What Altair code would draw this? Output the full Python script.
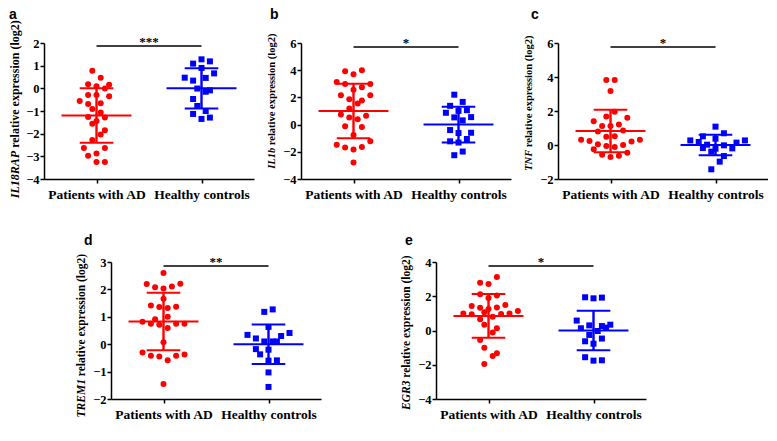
import altair as alt
import pandas as pd

GROUPS = ["Patients with AD", "Healthy controls"]
COLORS = ["#ff0000", "#0000ff"]
SHAPES = ["circle", "square"]
LETTERS = ["a", "b", "c", "d", "e"]
GENES = ["IL18RAP", "IL1b", "TNF", "TREM1", "EGR3"]
TITLE_REST = "relative expression (log2)"
STARS = ["***", "*", "*", "**", "*"]

# ---- panel a : IL18RAP ----
a_ad_val = [0.78, 0.47, 0.18, 0.16, 0.09, -0.01, -0.29, -0.29, -0.35, -0.56, -0.69, -0.66, -0.91, -1.07,
            -1.26, -1.29, -1.44, -1.56, -1.85, -2.04, -2.28, -2.63, -2.63, -2.88, -2.97, -3.25, -3.25]
a_ad_off = [-0.04, 0.04, -0.08, 0.12, 0, 0.08, -0.08, 0, 0.12, -0.16, -0.08, 0.04, -0.04, 0.04,
            -0.08, 0.08, 0, -0.04, 0.08, 0.04, -0.04, -0.12, 0.08, 0, -0.08, 0, 0.08]
a_hc_val = [1.28, 1.19, 1.09, 0.9, 0.66, 0.47, 0.46, 0.34, -0.01, -0.09, -0.15, -0.47, -0.78, -1.0,
            -1.13, -1.35, -1.29]
a_hc_off = [0, 0.08, -0.08, 0, 0.12, -0.16, 0.04, -0.08, -0.04, 0.08, 0.04, -0.08, -0.04, 0.04,
            -0.08, 0, 0.08]

# ---- panel b : IL1b ----
b_ad_val = [3.93, 3.71, 4.0, 3.13, 2.98, 2.98, 2.74, 2.57, 2.16, 2.16, 1.86, 1.77, 1.55, 1.18,
            0.74, 0.65, 0.53, 0.4, -0.13, -0.18, -0.76, -1.23, -1.49, -1.69, -1.64, -1.83, -2.78]
b_ad_off = [-0.08, 0, 0.08, -0.16, -0.08, 0.16, 0.08, 0, -0.12, 0.16, -0.04, 0.08, 0.04, -0.04,
            -0.12, 0.12, -0.04, 0.04, -0.08, 0.08, 0, 0.16, -0.16, -0.08, 0.08, 0, 0]
b_hc_val = [2.2, 1.67, 1.38, 1.01, 1.06, 0.87, 0.53, 0.55, 0.31, -0.4, -0.62, -0.6, -1.06, -1.23,
            -1.32, -1.98, -2.25]
b_hc_off = [-0.04, 0.04, -0.08, 0, 0.08, -0.12, -0.04, 0.12, 0.04, -0.08, 0, 0.12, 0.08, -0.08,
            0, 0.04, -0.04]

# ---- panel c : TNF ----
c_ad_val = [3.82, 3.82, 3.18, 1.96, 1.67, 1.61, 1.39, 1.2, 1.12, 1.12, 0.8, 0.86, 0.49, 0.51,
            0.31, 0.24, 0.31, 0.2, 0.04, 0.0, -0.06, -0.12, -0.25, -0.45, -0.57, -0.63, -0.71]
c_ad_off = [-0.04, 0.04, 0, 0.04, -0.04, 0.16, -0.16, 0.08, -0.08, 0, -0.12, 0.12, -0.04, 0.04,
            -0.28, -0.2, 0.28, 0.2, -0.12, 0.12, -0.04, 0.04, -0.16, 0.16, -0.08, 0.08, 0]
c_hc_val = [1.08, 0.69, 0.51, 0.27, 0.27, 0.37, 0.18, 0.14, 0.02, -0.02, -0.18, -0.2, -0.22, -0.39,
            -0.65, -0.98, -1.43]
c_hc_off = [0, 0.08, -0.12, -0.24, 0.28, 0, -0.16, 0.2, -0.08, 0.08, -0.12, 0.16, 0, -0.04,
            0.08, 0.04, -0.04]

# ---- panel d : TREM1 ----
d_ad_val = [2.6, 2.2, 2.21, 2.08, 2.11, 2.03, 1.66, 1.41, 1.36, 1.32, 1.37, 1.0, 0.91, 0.82,
            0.75, 0.71, 0.75, 0.75, 0.59, 0.07, -0.3, -0.42, -0.45, -0.42, -0.38, -0.59, -1.45]
d_ad_off = [0, -0.16, 0.16, -0.08, 0.08, 0, 0, -0.12, -0.04, 0.04, 0.12, 0.04, -0.08, -0.2,
            -0.12, -0.04, 0.12, 0.2, 0.04, 0, -0.2, -0.12, -0.04, 0.12, 0.2, 0.04, 0]
d_hc_val = [1.27, 1.18, 0.63, 0.41, 0.34, 0.3, 0.21, 0.1, 0.1, 0.1, -0.18, -0.2, -0.37, -0.6,
            -0.59, -1.03, -1.56]
d_hc_off = [0.04, -0.04, 0, 0.2, -0.2, 0.12, -0.12, -0.04, 0.04, 0.08, -0.12, 0, -0.08, 0,
            0.08, 0, 0]

# ---- panel e : EGR3 ----
e_ad_val = [3.12, 2.79, 2.72, 2.11, 2.04, 1.9, 1.43, 1.49, 1.33, 1.35, 1.26, 1.06, 1.0, 0.95,
            0.97, 1.0, 1.14, 0.81, 0.65, 0.34, 0.13, -0.12, -0.55, -1.0, -1.33, -1.49, -1.95]
e_ad_off = [0.08, -0.08, 0, -0.08, 0.08, 0, -0.16, 0.16, -0.08, 0.08, 0, -0.04, -0.24, -0.16,
            0.12, 0.2, 0.28, 0.04, -0.08, -0.04, 0.08, 0.04, -0.08, -0.04, 0.08, 0.04, -0.04]
e_hc_val = [1.94, 1.88, 1.92, 0.58, 0.34, 0.3, 0.26, 0.13, 0.17, -0.03, -0.26, -0.47, -0.63, -0.77,
            -1.56, -1.76, -1.74]
e_hc_off = [-0.08, 0, 0.08, -0.16, 0.16, -0.04, 0.08, -0.12, 0.12, 0.04, -0.04, 0.08, -0.08, 0,
            -0.08, 0, 0.08]

# mean and SD: (AD mean, AD sd, HC mean, HC sd)
MEAN_SD = {
    "a": (-1.2, 1.2, 0.0, 0.89),
    "b": (1.0, 2.0, 0.0, 1.32),
    "c": (0.82, 1.25, 0.0, 0.61),
    "d": (0.83, 1.05, 0.0, 0.72),
    "e": (0.85, 1.28, 0.0, 1.15),
}
SIG_Y = {"a": 1.87, "b": 5.71, "c": 5.77, "d": 2.85, "e": 3.77}
Y_DOMAIN = {"a": [-4, 2], "b": [-4, 6], "c": [-2, 6], "d": [-2, 3], "e": [-4, 4]}
Y_TICKS = {"a": [-4, -3, -2, -1, 0, 1, 2], "b": [-4, -2, 0, 2, 4, 6], "c": [-2, 0, 2, 4, 6],
           "d": [-2, -1, 0, 1, 2, 3], "e": [-4, -2, 0, 2, 4]}

PANEL_DATA = {
    "a": (a_ad_val, a_ad_off, a_hc_val, a_hc_off),
    "b": (b_ad_val, b_ad_off, b_hc_val, b_hc_off),
    "c": (c_ad_val, c_ad_off, c_hc_val, c_hc_off),
    "d": (d_ad_val, d_ad_off, d_hc_val, d_hc_off),
    "e": (e_ad_val, e_ad_off, e_hc_val, e_hc_off),
}

# ---- layout / style constants ----
W = 210
H_TOP, H_BOT = 136, 137
TITLE_FS = {"a": 12, "b": 10.5, "c": 10.5, "d": 11.5, "e": 11.5}
TITLE_SHIFT = {"a": -2, "b": -10, "c": -8, "d": 5, "e": 2}
LETTER_POS = {"a": (-35, -24), "b": (-31, -24), "c": (-27, -24), "d": (-27, -17), "e": (-31, -17)}
TITLE_X = -29
MEAN_HALF = 0.333
SD_HALF = 0.16
SERIF = "Liberation Serif"

# Times bold / bold-italic advance widths (em/1000) for centring the two-part axis title
BOLD_W = {" ": 250, "(": 333, ")": 333, "2": 500, "a": 500, "e": 444, "g": 500,
          "i": 278, "l": 278, "n": 556, "o": 500, "p": 556, "r": 444, "s": 389, "t": 333,
          "v": 500, "x": 500}
BI_W = {"I": 389, "L": 611, "1": 500, "8": 500, "R": 667, "A": 667, "P": 611, "b": 500, "T": 611,
        "N": 722, "F": 667, "E": 667, "M": 889, "G": 722, "3": 500}


def text_w(s, table, fs):
    return sum(table.get(ch, 500) for ch in s) / 1000.0 * fs


label_expr = "datum.value == 0 ? '%s' : '%s'" % (GROUPS[0], GROUPS[1])


def make_panel(key, idx, H):
    ad_v, ad_o, hc_v, hc_o = PANEL_DATA[key]
    pts = pd.DataFrame({
        "grp": [GROUPS[0]] * len(ad_v) + [GROUPS[1]] * len(hc_v),
        "center": [0] * len(ad_v) + [1] * len(hc_v),
        "off": ad_o + hc_o,
        "val": ad_v + hc_v,
    })
    m1, s1, m2, s2 = MEAN_SD[key]
    summ = pd.DataFrame({"grp": GROUPS, "center": [0, 1], "mean": [m1, m2], "sd": [s1, s2]})

    xs = alt.Scale(domain=[-0.5, 1.5], nice=False, zero=False)
    ys = alt.Scale(domain=Y_DOMAIN[key], nice=False, zero=False)
    xaxis = alt.Axis(values=[0, 1], labelExpr=label_expr, title=None, grid=False,
                     domainColor="black", domainWidth=1.5, tickColor="black", tickWidth=1.5,
                     tickSize=4, labelFont=SERIF, labelFontWeight="bold", labelFontSize=13.5,
                     labelColor="black", labelPadding=4, labelOverlap=False, labelFlush=False)
    yaxis = alt.Axis(values=Y_TICKS[key], title=None, grid=False,
                     domainColor="black", domainWidth=1.5, tickColor="black", tickWidth=1.5,
                     tickSize=4, labelFont=SERIF, labelFontWeight="bold", labelFontSize=12.5,
                     labelColor="black", labelPadding=1, labelOverlap=False, labelFlush=False)

    def X(f):
        return alt.X(f, type="quantitative", scale=xs, axis=xaxis)

    def Y(f):
        return alt.Y(f, type="quantitative", scale=ys, axis=yaxis)

    col = alt.Color("grp:N", scale=alt.Scale(domain=GROUPS, range=COLORS), legend=None)
    shp = alt.Shape("grp:N", scale=alt.Scale(domain=GROUPS, range=SHAPES), legend=None)

    points = alt.Chart(pts).transform_calculate(xpos="datum.center + datum.off").mark_point(
        filled=True, size=36, opacity=1).encode(x=X("xpos"), y=Y("val"), color=col, shape=shp)

    base = alt.Chart(summ).transform_calculate(
        lo="datum.mean - datum.sd", hi="datum.mean + datum.sd",
        xm1="datum.center - %f" % MEAN_HALF, xm2="datum.center + %f" % MEAN_HALF,
        xs1="datum.center - %f" % SD_HALF, xs2="datum.center + %f" % SD_HALF)
    mean_line = base.mark_rule(strokeWidth=2).encode(x=X("xm1"), x2="xm2:Q", y=Y("mean"), color=col)
    sd_hi = base.mark_rule(strokeWidth=2).encode(x=X("xs1"), x2="xs2:Q", y=Y("hi"), color=col)
    sd_lo = base.mark_rule(strokeWidth=2).encode(x=X("xs1"), x2="xs2:Q", y=Y("lo"), color=col)
    sd_v = base.mark_rule(strokeWidth=2.4).encode(x=X("center"), y=Y("lo"), y2="hi:Q", color=col)

    sig = pd.DataFrame({"x0": [0], "x1": [1], "xm": [0.5], "y": [SIG_Y[key]], "t": [STARS[idx]]})
    sig_bar = alt.Chart(sig).mark_rule(color="black", strokeWidth=1.5).encode(
        x=X("x0"), x2="x1:Q", y=Y("y"))
    sig_txt = alt.Chart(sig).mark_text(font=SERIF, fontWeight="bold", fontSize=13, color="black",
                                       baseline="alphabetic", dy=0).encode(
        x=X("xm"), y=Y("y"), text="t:N")

    fs = TITLE_FS[key]
    gw = text_w(GENES[idx], BI_W, fs)
    rw = text_w(TITLE_REST, BOLD_W, fs)
    gap = 0.25 * fs
    bottom = H / 2 + TITLE_SHIFT[key] + (gw + gap + rw) / 2
    y_gene = bottom - gw
    y_rest = y_gene - gap
    gene_txt = alt.Chart(pd.DataFrame({"t": [GENES[idx]]})).mark_text(
        angle=270, align="right", baseline="middle", font=SERIF, fontStyle="italic",
        fontWeight="bold", fontSize=fs, color="black").encode(
        x=alt.value(TITLE_X), y=alt.value(y_gene), text="t:N")
    rest_txt = alt.Chart(pd.DataFrame({"t": [TITLE_REST]})).mark_text(
        angle=270, align="left", baseline="middle", font=SERIF,
        fontWeight="bold", fontSize=fs, color="black").encode(
        x=alt.value(TITLE_X), y=alt.value(y_rest), text="t:N")

    lx, ly = LETTER_POS[key]
    letter = alt.Chart(pd.DataFrame({"t": [LETTERS[idx]]})).mark_text(
        align="left", baseline="alphabetic", font="Liberation Sans", fontWeight="bold",
        fontSize=14, color="black").encode(x=alt.value(lx), y=alt.value(ly), text="t:N")

    return alt.layer(points, mean_line, sd_hi, sd_lo, sd_v, sig_bar, sig_txt,
                     gene_txt, rest_txt, letter).properties(width=W, height=H)


pa = make_panel("a", 0, H_TOP)
pb = make_panel("b", 1, H_TOP)
pc = make_panel("c", 2, H_TOP)
pd_ = make_panel("d", 3, H_BOT)
pe = make_panel("e", 4, H_BOT)

# transparent spacer that pushes the lower row to the right
spacer = alt.Chart(pd.DataFrame({"v": [0]})).mark_point(opacity=0).properties(width=67, height=10)

top = alt.hconcat(pa, pb, pc, spacing=47, bounds="flush")
bottom = alt.hconcat(spacer, alt.hconcat(pd_, pe, spacing=115, bounds="flush"),
                     spacing=0, bounds="flush")

chart = alt.vconcat(top, bottom, spacing=33).properties(
    padding=0, background="white"
).configure_view(strokeWidth=0).configure_axis(
    labelFont=SERIF, labelFontWeight="bold", labelColor="black")

chart.save("out.html", embed_options={"renderer": "svg", "actions": False})
